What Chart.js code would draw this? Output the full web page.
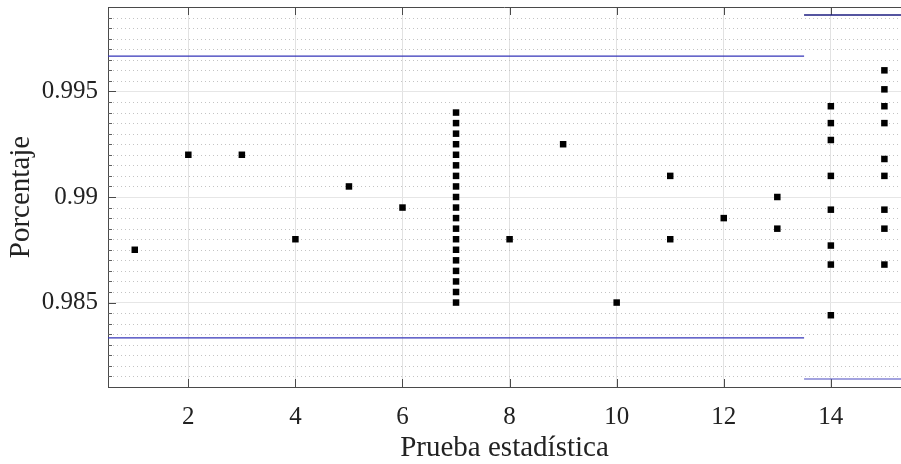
<!DOCTYPE html>
<html>
<head>
<meta charset="utf-8">
<script src="https://cdn.jsdelivr.net/npm/chart.js@4.4.1/dist/chart.umd.min.js"></script>
<style>
  html, body { margin: 0; padding: 0; background: #ffffff; }
  #wrap { width: 901px; height: 464px; position: relative; }
</style>
</head>
<body>
<div id="wrap"><canvas id="c" width="901" height="464"></canvas></div>
<script>
// ---- data ----
const testsSingle = [1, 2, 3, 4, 5, 6, 8, 9, 10, 11, 11, 12, 13, 13];
const pctSingle   = [0.9875, 0.992, 0.992, 0.988, 0.9905, 0.9895, 0.988, 0.9925, 0.985, 0.991, 0.988, 0.989, 0.990, 0.9885];
const pctTest7  = [0.985, 0.9855, 0.986, 0.9865, 0.987, 0.9875, 0.988, 0.9885, 0.989, 0.9895,
                   0.990, 0.9905, 0.991, 0.9915, 0.992, 0.9925, 0.993, 0.9935, 0.994];
const pctTest14 = [0.9943, 0.9935, 0.9927, 0.991, 0.9894, 0.9877, 0.9868, 0.9844];
const pctTest15 = [0.996, 0.9951, 0.9943, 0.9935, 0.9918, 0.991, 0.9894, 0.9885, 0.9868];
// confidence limits: [lower, upper] for tests up to 13 and for tests 14-15
const limitsA = [0.98333, 0.99667];
const limitsB = [0.98138, 0.99862];
const limitXA = [0.5, 13.5];
const limitXB = [13.5, 15.5];
// axes
const xRange = [0.5, 15.31];
const yRange = [0.981, 0.999];
const xTickValues = [2, 4, 6, 8, 10, 12, 14];
const yTickValues = [0.985, 0.99, 0.995];
const yTickLabels = ['0.985', '0.99', '0.995'];
const yMinorStep = 0.0005;
const xTitle = 'Prueba estadística';
const yTitle = 'Porcentaje';

// build point list
const points = [];
testsSingle.forEach((t, i) => points.push({ x: t, y: pctSingle[i] }));
pctTest7.forEach(v => points.push({ x: 7, y: v }));
pctTest14.forEach(v => points.push({ x: 14, y: v }));
pctTest15.forEach(v => points.push({ x: 15, y: v }));

function seg(xs, y) { return [{ x: xs[0], y: y }, { x: xs[1], y: y }]; }

const serif = "'Liberation Serif', 'Times New Roman', serif";
const axisColor = '#4a4a4a';

const decor = {
  id: 'decor',
  beforeDatasetsDraw(chart) {
    const { ctx, chartArea: a, scales: { x, y } } = chart;
    ctx.save();
    ctx.lineWidth = 1;
    // minor dotted horizontal gridlines
    ctx.strokeStyle = '#c4c4c4';
    ctx.setLineDash([1, 3]);
    const nMinor = Math.round((yRange[1] - yRange[0]) / yMinorStep);
    for (let k = 1; k < nMinor; k++) {
      const v = yRange[0] + k * yMinorStep;
      if (yTickValues.some(t => Math.abs(t - v) < 1e-7)) continue;
      const py = Math.round(y.getPixelForValue(v)) + 0.5;
      ctx.beginPath(); ctx.moveTo(a.left + 1, py); ctx.lineTo(a.right, py); ctx.stroke();
    }
    ctx.setLineDash([]);
    // top border
    ctx.strokeStyle = axisColor;
    ctx.beginPath(); ctx.moveTo(a.left, Math.round(a.top) + 0.5); ctx.lineTo(a.right, Math.round(a.top) + 0.5); ctx.stroke();
    // inward ticks on x (bottom and top)
    xTickValues.forEach(v => {
      const px = Math.round(x.getPixelForValue(v)) + 0.5;
      ctx.beginPath(); ctx.moveTo(px, a.bottom); ctx.lineTo(px, a.bottom - 8); ctx.stroke();
      ctx.beginPath(); ctx.moveTo(px, a.top); ctx.lineTo(px, a.top + 8); ctx.stroke();
    });
    // inward ticks on y (major + minor)
    for (let k = 1; k < nMinor; k++) {
      const v = yRange[0] + k * yMinorStep;
      const major = yTickValues.some(t => Math.abs(t - v) < 1e-7);
      const py = Math.round(y.getPixelForValue(v)) + 0.5;
      ctx.strokeStyle = major ? axisColor : '#606060';
      ctx.beginPath(); ctx.moveTo(a.left, py); ctx.lineTo(a.left + (major ? 8 : 4), py); ctx.stroke();
    }
    ctx.restore();
  }
};

const lineStyle = (color, w) => ({
  type: 'line', borderColor: color, borderWidth: w, pointRadius: 0,
  fill: false, tension: 0, showLine: true
});

new Chart(document.getElementById('c'), {
  type: 'scatter',
  data: {
    datasets: [
      Object.assign({ data: seg(limitXA, limitsA[1]) }, lineStyle('#3434b8', 1.2)),
      Object.assign({ data: seg(limitXA, limitsA[0]) }, lineStyle('#3434b8', 1.2)),
      Object.assign({ data: seg(limitXB, limitsB[1]) }, lineStyle('#1c1c80', 1.4)),
      Object.assign({ data: seg(limitXB, limitsB[0]) }, lineStyle('#4848c0', 1.2)),
      {
        type: 'scatter', data: points, pointStyle: 'rect', pointRadius: 4.6,
        backgroundColor: '#000000', borderWidth: 0, pointHoverRadius: 4.6
      }
    ]
  },
  options: {
    responsive: false,
    animation: false,
    events: [],
    layout: { autoPadding: false, padding: { top: 7, right: 0, left: 0, bottom: 0 } },
    plugins: { legend: { display: false }, tooltip: { enabled: false } },
    scales: {
      x: {
        type: 'linear', min: xRange[0], max: xRange[1],
        afterBuildTicks: s => { s.ticks = xTickValues.map(v => ({ value: v })); },
        afterFit: s => { s.height = 77; s.paddingLeft = 0; s.paddingRight = 0; },
        grid: { color: '#e2e2e2', lineWidth: 1, drawTicks: false },
        border: { color: axisColor, width: 1 },
        ticks: { padding: 15, color: '#222', font: { family: serif, size: 25 }, maxRotation: 0,
                 callback: v => String(v) },
        title: { display: true, text: xTitle, color: '#222',
                 font: { family: serif, size: 29, lineHeight: 1 }, padding: { top: 0, bottom: 1 } }
      },
      y: {
        type: 'linear', min: yRange[0], max: yRange[1],
        afterBuildTicks: s => { s.ticks = yTickValues.map(v => ({ value: v })); },
        afterFit: s => { s.width = 108; s.paddingTop = 0; s.paddingBottom = 0; },
        grid: { color: '#e6e6e6', lineWidth: 1, drawTicks: false },
        border: { color: axisColor, width: 1 },
        ticks: { padding: 10, color: '#222', font: { family: serif, size: 25 },
                 callback: (v) => { const i = yTickValues.findIndex(t => Math.abs(t - v) < 1e-9); return i >= 0 ? yTickLabels[i] : ''; } },
        title: { display: true, text: yTitle, color: '#222',
                 font: { family: serif, size: 29, lineHeight: 1 }, padding: { top: 7, bottom: 0 } }
      }
    }
  },
  plugins: [decor]
});
</script>
</body>
</html>
